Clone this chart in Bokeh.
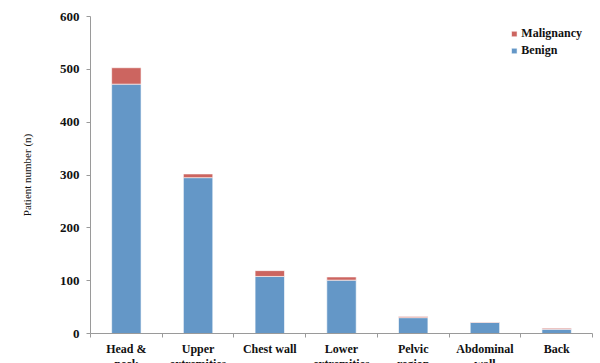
from bokeh.plotting import figure
from bokeh.models import FixedTicker, Legend, LegendItem, ColumnDataSource
from bokeh.embed import file_html
from bokeh.resources import INLINE

categories = ["Head &\nneck", "Upper\nextremities", "Chest wall", "Lower\nextremities",
              "Pelvic\nregion", "Abdominal\nwall", "Back"]
benign = [472, 295, 108, 101, 30, 21, 8]
malignancy = [31, 7, 11, 6, 2, 1, 2]
y_ticks = [0, 100, 200, 300, 400, 500, 600]

BLUE = "#6497C7"
RED = "#CC6560"
SERIF = "Liberation Serif"

xs = [i + 0.5 for i in range(len(categories))]
src = ColumnDataSource(dict(x=xs, benign=benign, malignancy=malignancy))

p = figure(frame_width=502, frame_height=317, output_backend="svg", toolbar_location=None,
           x_range=(0, len(categories)), y_range=(0, 600),
           min_border_left=90, min_border_right=8, min_border_top=16, min_border_bottom=0)
p.outline_line_color = None
p.xgrid.grid_line_color = None
p.ygrid.grid_line_color = None

rs = p.vbar_stack(["benign", "malignancy"], x="x", width=0.41, source=src,
                  color=[BLUE, RED], line_color="white", line_alpha=0.6, line_width=1)

# axes
p.yaxis.ticker = FixedTicker(ticks=y_ticks)
p.yaxis.axis_line_color = "#9a9a9a"
p.yaxis.major_tick_line_color = "#9a9a9a"
p.yaxis.major_tick_out = 4
p.yaxis.major_tick_in = 0
p.yaxis.minor_tick_line_color = None
p.yaxis.major_label_text_font = SERIF
p.yaxis.major_label_text_font_style = "bold"
p.yaxis.major_label_text_font_size = "13px"
p.yaxis.major_label_text_color = "#111111"
p.yaxis.major_label_standoff = 7
p.yaxis.axis_label = "Patient number (n)"
p.yaxis.axis_label_text_font = SERIF
p.yaxis.axis_label_text_font_style = "normal"
p.yaxis.axis_label_text_font_size = "11px"
p.yaxis.axis_label_text_color = "#111111"
p.yaxis.axis_label_standoff = 24

p.xaxis.ticker = FixedTicker(ticks=xs, minor_ticks=list(range(len(categories) + 1)))
p.xaxis.major_label_overrides = {x: c for x, c in zip(xs, categories)}
p.xaxis.axis_line_color = "#9a9a9a"
p.xaxis.major_tick_line_color = None
p.xaxis.minor_tick_line_color = "#9a9a9a"
p.xaxis.minor_tick_out = 4
p.xaxis.minor_tick_in = 0
p.xaxis.major_label_text_font = SERIF
p.xaxis.major_label_text_font_style = "bold"
p.xaxis.major_label_text_font_size = "12px"
p.xaxis.major_label_text_color = "#111111"
p.xaxis.major_label_text_line_height = 1.1
p.xaxis.major_label_standoff = 2

legend = Legend(items=[LegendItem(label="Malignancy", renderers=[rs[1]]),
                       LegendItem(label="Benign", renderers=[rs[0]])],
                location="top_right", border_line_alpha=0, background_fill_alpha=0,
                label_text_font=SERIF, label_text_font_size="12px",
                label_text_font_style="bold", label_text_color="#111111",
                glyph_width=7, glyph_height=7, label_standoff=4, spacing=2,
                padding=2, margin=8, label_height=14)
p.add_layout(legend)

open("out.html", "w").write(file_html(p, INLINE))
